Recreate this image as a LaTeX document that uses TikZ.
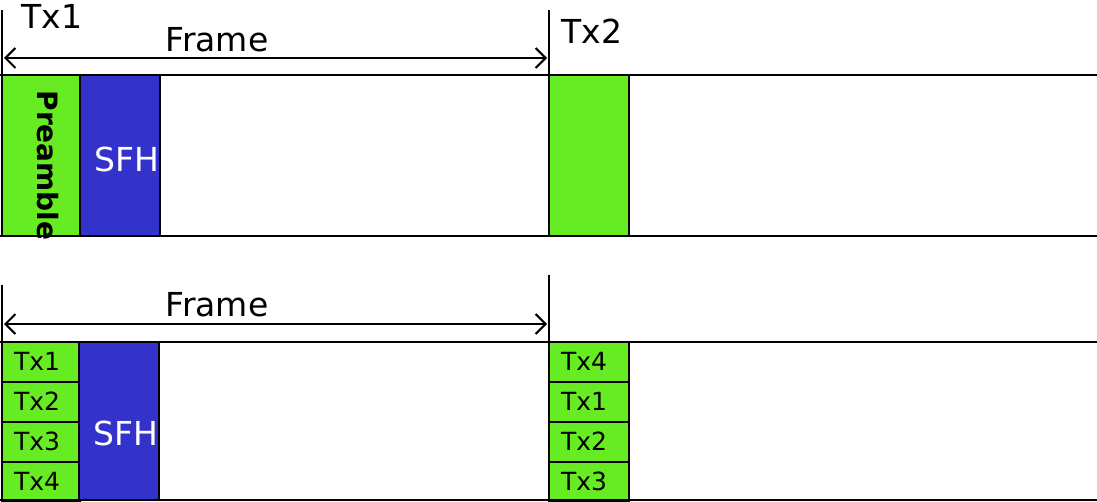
\documentclass[tikz,border=0pt]{standalone}
\usepackage{fontspec}
\setmainfont{DejaVu Sans}
\usetikzlibrary{positioning, calc, arrows.meta}
\definecolor{slotgreen}{RGB}{103,235,35}
\definecolor{sfhblue}{RGB}{51,51,204}
\tikzset{>={Straight Barb[length=5pt,width=10pt,line width=1pt]}}

\begin{document}
\begin{tikzpicture}[x=0.5pt, y=-0.5pt]

\tikzstyle{slot}=[draw=black, fill=slotgreen, line width=1.4pt, rectangle, inner sep=0, outer sep=0, anchor=north west, minimum width=39pt]
\tikzstyle{sfh}=[draw=black, fill=sfhblue, line width=1.4pt, rectangle, inner sep=0, outer sep=0, anchor=north west, minimum width=40pt]
\tikzstyle{rule}=[draw=black, line width=1.1pt]
\tikzstyle{frame}=[<->, line width=1pt]
\tikzstyle{lbl}=[inner sep=0, font=\fontsize{16.5}{18}\selectfont]
\tikzstyle{small}=[font=\fontsize{12.5}{14}\selectfont]

\useasboundingbox (0,0) rectangle (1097,502);

% upper frame
\coordinate (up-l) at (0, 75);
\coordinate (up-r) at (1097, 75);
\coordinate (up-bl) at (0, 236);
\coordinate (up-br) at (1097, 236);
\node [slot, minimum height=80.5pt] (pre) at (2, 75) {};
\node [sfh, minimum height=80.5pt] (sfh-1) at (pre.north east) {};
\node [slot, minimum width=40pt, minimum height=80.5pt] (tx2-slot) at (549, 75) {};
\node [rotate=-90, font=\fontsize{14}{16}\bfseries] (pre-lbl) at ($(pre.center) + (7, 10)$) {Preamble};
\node [font=\fontsize{16.5}{18}\selectfont, text=white] (sfh-1-lbl) at ($(sfh-1.center) + (7, 4)$) {SFH};
\draw [rule] (up-l) -- (up-r);
\draw [rule] (up-bl) -- (up-br);

\coordinate (tick-1) at (2, 10);
\coordinate (tick-2) at (549, 10);
\draw [rule] (tick-1) -- (pre.north west);
\draw [rule] (tick-2) -- (tx2-slot.north west);

\coordinate (arr-1-l) at (4, 58);
\coordinate (arr-1-r) at (547, 58);
\draw [frame] (arr-1-l) -- (arr-1-r);
\node [lbl] (frame-1) at (217, 40) {Frame};
\node [lbl, anchor=north west] (tx1) at (21, 4) {Tx1};
\node [lbl, anchor=north west] (tx2) at (561, 19) {Tx2};

% lower frame
\coordinate (lo-l) at (0, 342);
\coordinate (lo-r) at (1097, 342);
\coordinate (lo-bl) at (0, 500);
\coordinate (lo-br) at (1097, 500);
\foreach \i/\a/\b in {1/1/4, 2/2/1, 3/3/2, 4/4/3}
{
	\node [slot, minimum height=20pt] (left-\i) at (2, 342+40*\i-40) {};
	\node [small, anchor=west] (left-\i-lbl) at ($(left-\i.west) + (5, -1)$) {Tx\a};
	\node [slot, minimum width=40pt, minimum height=20pt] (right-\i) at (549, 342+40*\i-40) {};
	\node [small, anchor=west] (right-\i-lbl) at ($(right-\i.west) + (5, -1)$) {Tx\b};
}
\node [sfh, minimum height=79pt] (sfh-2) at (79, 342) {};
\node [font=\fontsize{16.5}{18}\selectfont, text=white] (sfh-2-lbl) at ($(sfh-2.center) + (7, 12)$) {SFH};
\draw [rule] (lo-l) -- (lo-r);
\draw [rule] (lo-bl) -- (lo-br);

\coordinate (tick-3) at (2, 285);
\coordinate (tick-4) at (549, 275);
\draw [rule] (tick-3) -- (left-1.north west);
\draw [rule] (tick-4) -- (right-1.north west);

\coordinate (arr-2-l) at (4, 324);
\coordinate (arr-2-r) at (547, 324);
\draw [frame] (arr-2-l) -- (arr-2-r);
\node [lbl] (frame-2) at (217, 305) {Frame};

\end{tikzpicture}
\end{document}
